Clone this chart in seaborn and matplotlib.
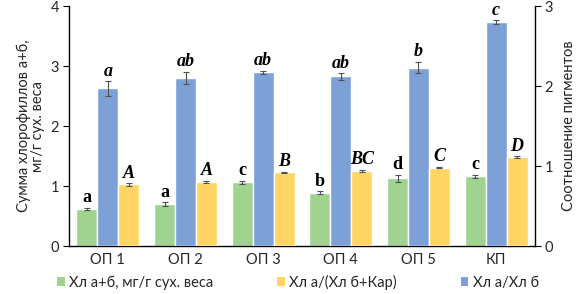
import seaborn as sns
import matplotlib.pyplot as plt
import pandas as pd
from matplotlib.patches import Patch

groups = ['ОП 1', 'ОП 2', 'ОП 3', 'ОП 4', 'ОП 5', 'КП']

# bar order inside each group
series = ['Хл а+б, мг/г сух. веса', 'Хл а/Хл б', 'Хл а/(Хл б+Кар)']
legend_order = [series[0], series[2], series[1]]
colors = {series[0]: '#9fd38f', series[1]: '#7da0d6', series[2]: '#ffd666'}

# left axis
chl_sum = [0.62, 0.70, 1.06, 0.89, 1.13, 1.16]
chl_sum_err = [0.02, 0.03, 0.03, 0.02, 0.06, 0.03]
chl_sum_tags = ['a', 'a', 'c', 'b', 'd', 'c']

# right axis
ratio_ab = [1.97, 2.10, 2.17, 2.12, 2.23, 2.80]
ratio_ab_err = [0.09, 0.08, 0.02, 0.04, 0.07, 0.02]
ratio_ab_tags = ['a', 'ab', 'ab', 'ab', 'b', 'c']

ratio_car = [0.77, 0.80, 0.92, 0.94, 0.98, 1.11]
ratio_car_err = [0.015, 0.015, 0.01, 0.01, 0.01, 0.01]
ratio_car_tags = ['A', 'A', 'B', 'BC', 'C', 'D']

rows = []
for vals, errs, tags, name, side, style in [
    (chl_sum, chl_sum_err, chl_sum_tags, series[0], 'left', 'normal'),
    (ratio_ab, ratio_ab_err, ratio_ab_tags, series[1], 'right', 'italic'),
    (ratio_car, ratio_car_err, ratio_car_tags, series[2], 'right', 'italic'),
]:
    for g, v, e, t in zip(groups, vals, errs, tags):
        rows.append(dict(group=g, series=name, value=v, err=e, tag=t, side=side, style=style))
df = pd.DataFrame(rows)

sns.set_theme(style='white')
plt.rcParams['font.family'] = ['Lato', 'DejaVu Sans']

W = 0.81
fig = plt.figure(figsize=(5.84, 2.94), dpi=100)
ax = fig.add_axes([69 / 584, 48 / 294, 466 / 584, 240 / 294])
sns.barplot(data=df[df.side == 'left'], x='group', y='value', hue='series',
            order=groups, hue_order=series, palette=colors, width=W, dodge=True,
            errorbar=None, legend=False, saturation=1, ax=ax)
ax2 = ax.twinx()
sns.barplot(data=df[df.side == 'right'], x='group', y='value', hue='series',
            order=groups, hue_order=series, palette=colors, width=W, dodge=True,
            errorbar=None, legend=False, saturation=1, ax=ax2)

ax.set_ylim(0, 4)
ax.set_yticks(range(0, 5))
ax2.set_ylim(0, 3)
ax2.set_yticks(range(0, 4))
ax.set_xlim(-0.5, len(groups) - 0.5)

# error bars + significance letters, positioned from the drawn bars
lookup = df.set_index(['group', 'series'])
for axis in (ax, ax2):
    for p in axis.patches:
        xc = p.get_x() + p.get_width() / 2
        i = int(round(xc))
        k = int(round((xc - i) / (W / 3))) + 1
        key = (groups[i], series[k])
        if key not in lookup.index:
            continue
        r = lookup.loc[key]
        axis.errorbar(xc, r.value, yerr=r.err, fmt='none', ecolor='#505050',
                      elinewidth=0.8, capsize=2.5, capthick=0.8)
        axis.annotate(r.tag, (xc, r.value + r.err), xytext=(0, 4),
                      textcoords='offset points', ha='center', va='baseline',
                      fontsize=13, fontweight='bold', fontstyle=r['style'],
                      family='Liberation Serif', color='black')

for a in (ax, ax2):
    for s in a.spines.values():
        s.set_visible(False)
ax.spines['left'].set_visible(True)
ax.spines['bottom'].set_visible(True)
ax2.spines['right'].set_visible(True)
for s in [ax.spines['left'], ax.spines['bottom'], ax2.spines['right']]:
    s.set_color('black')
    s.set_linewidth(1.0)

ax.tick_params(axis='y', length=4, width=0.8, color='black', direction='out',
               left=True, labelsize=10.5, pad=3)
ax2.tick_params(axis='y', length=4, width=0.8, color='black', direction='out',
                right=True, labelsize=10.5, pad=3)
ax.tick_params(axis='x', length=0, labelsize=10.5, pad=5)
ax.set_xlabel('')
ax2.set_xlabel('')
ax.set_ylabel('Сумма хлорофиллов а+б,\nмг/г сух. веса', fontsize=10.5, labelpad=4,
              linespacing=1.0)
ax2.set_ylabel('Соотношение пигментов', fontsize=10.5, labelpad=6)

handles = [Patch(facecolor=colors[s], edgecolor='none') for s in legend_order]
fig.legend(handles, legend_order, loc='center', bbox_to_anchor=(298 / 584, 1 - 282 / 294),
           ncol=3, frameon=False, handlelength=0.5, handleheight=0.5,
           handletextpad=0.3, columnspacing=4.4, fontsize=10.5)

fig.savefig('out.png', dpi=100)
